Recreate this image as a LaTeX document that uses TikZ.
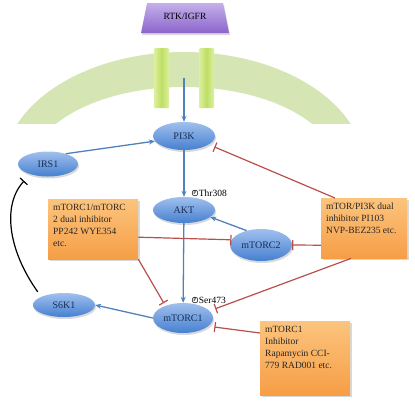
\documentclass[tikz,border=0pt]{standalone}
\usepackage{fontspec}
\setmainfont{Liberation Serif}
\usetikzlibrary{shapes.geometric, arrows.meta, shadows}

\definecolor{pathblue}{RGB}{79,129,189}
\definecolor{inhred}{RGB}{185,78,76}
\definecolor{navytext}{RGB}{25,45,85}
\definecolor{membgreen}{RGB}{213,230,180}
\definecolor{rcpgreen}{RGB}{190,222,100}
\definecolor{rcplight}{RGB}{222,240,160}
\definecolor{protlight}{RGB}{160,192,238}
\definecolor{protdark}{RGB}{70,128,208}
\definecolor{druglight}{RGB}{252,196,125}
\definecolor{drugdark}{RGB}{246,158,70}
\definecolor{rtklight}{RGB}{196,176,234}
\definecolor{rtkdark}{RGB}{140,100,204}

\tikzset{
  prot/.style={ellipse, minimum width=62pt, minimum height=27pt, inner sep=0pt,
    top color=protlight, bottom color=protdark, text=navytext,
    font=\fontsize{10}{11}\selectfont,
    drop shadow={opacity=0.3, shadow xshift=1pt, shadow yshift=-2pt}},
  drug/.style={rectangle, inner sep=5pt, anchor=north west, text=black!85,
    top color=druglight, bottom color=drugdark,
    font=\fontsize{9.5}{12}\selectfont,
    drop shadow={opacity=0.3, shadow xshift=1.5pt, shadow yshift=-2pt}},
  act/.style={pathblue, line width=1.3pt, -{Stealth[length=6pt, width=5pt]}},
  inh/.style={inhred, line width=1.2pt, -{Bar[width=10pt]}},
  pmark/.style={circle, draw, line width=0.5pt, inner sep=0.4pt, font=\fontsize{5.5}{6}\selectfont},
  phos/.style={anchor=west, inner sep=0.5pt, font=\fontsize{9.5}{10}\selectfont},
}

\begin{document}
\begin{tikzpicture}[x=1pt, y=-1pt]
  \useasboundingbox (0,0) rectangle (415,400);

  % membrane
  \begin{scope}
    \clip (0,0) rectangle (415,123);
    \fill[membgreen, even odd rule] (184,170) ellipse [x radius=181pt, y radius=118pt]
      (184,170) ellipse [x radius=154pt, y radius=83pt];
  \end{scope}
  \shade[left color=rcplight, right color=rcplight, middle color=rcpgreen, rounded corners=1pt]
    (154,48) rectangle (169,108); % left receptor bar
  \shade[left color=rcplight, right color=rcplight, middle color=rcpgreen, rounded corners=1pt]
    (199,48) rectangle (214,108); % right receptor bar

  % receptor
  \shade[top color=rtklight, bottom color=rtkdark,
    drop shadow={opacity=0.3, shadow xshift=1pt, shadow yshift=-2pt}]
    (147,3) -- (223,3) -- (229,33) -- (141,33) -- cycle;
  \node[text=black, font=\fontsize{9.5}{10}\selectfont] (rtk) at (185,16) {RTK/IGFR};

  % proteins
  \node[prot, minimum height=28pt] (pi3k) at (184,136) {PI3K};
  \node[prot, minimum width=60pt, minimum height=25pt] (irs1) at (48,164) {IRS1};
  \node[prot, minimum height=26pt] (akt) at (184,210) {AKT};
  \node[prot, minimum height=32pt] (mtorc2) at (261,245) {mTORC2};
  \node[prot, minimum width=60pt, minimum height=30pt] (mtorc1) at (183,318) {mTORC1};
  \node[prot, minimum height=24pt] (s6k1) at (64,305) {S6K1};

  % inhibitors
  \node[drug] (dual12) at (48,199) {\parbox[t][50pt][t]{80pt}{\raggedright
    mTORC1/mTORC\\2 dual inhibitor\\PP242 WYE354\\etc.}};
  \node[drug] (dualpi3k) at (321,198) {\parbox[t][50pt][t]{76pt}{\raggedright
    mTOR/PI3K dual\\inhibitor PI103\\NVP-BEZ235 etc.}};
  \node[drug] (rapa) at (260,321) {\parbox[t][64pt][t]{80pt}{\raggedright
    mTORC1\\Inhibitor\\Rapamycin CCI-\\779 RAD001 etc.}};

  % inhibition
  \draw[inh, shorten >=6pt] ([xshift=14pt]dualpi3k.north west) -- (pi3k.-19);
  \draw[inh] ([yshift=-17pt]dualpi3k.west) -- (mtorc2.east);
  \draw[inh] ([yshift=-8pt]dual12.east) -- (mtorc2.170);
  \draw[inh, shorten >=3pt] (dual12.south east) -- (mtorc1.145);
  \draw[inh, shorten >=6pt] ([xshift=30pt]dualpi3k.south west) -- (mtorc1.15);
  \draw[inh, shorten >=6pt] ([yshift=-12pt]rapa.north west) -- (mtorc1.-18);

  % activation
  \coordinate (rcp) at (184,78);
  \draw[act] (rcp) -- (pi3k);
  \draw[act] (irs1.30) -- (pi3k.190);
  \draw[act] (pi3k) -- (akt);
  \draw[act] (mtorc2.135) -- (akt.-15);
  \draw[act] (akt) -- (mtorc1);
  \draw[act] (mtorc1.west) -- (s6k1.east);

  % feedback
  \draw[black, line width=1.2pt, -{Bar[width=10pt]}, shorten <=6pt, shorten >=9pt]
    (s6k1.160) .. controls (8,250) and (2,205) .. (irs1.210);

  % phosphorylation sites
  \node[pmark] (thrp) at (195,193) {P};
  \node[phos] (thr) at (thrp.east) {Thr308};
  \node[pmark] (serp) at (195,300) {P};
  \node[phos] (ser) at (serp.east) {Ser473};
\end{tikzpicture}
\end{document}
